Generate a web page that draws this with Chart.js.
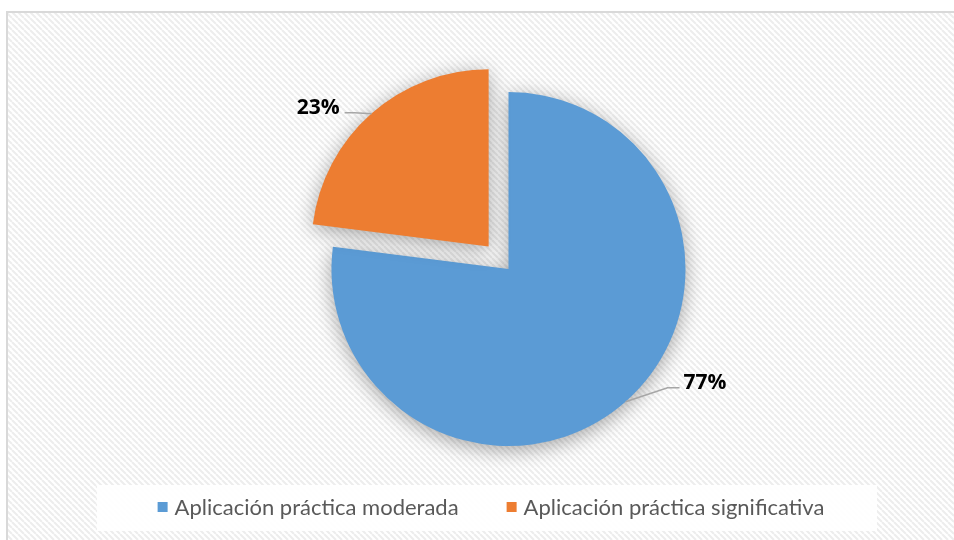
<!DOCTYPE html>
<html>
<head>
<meta charset="utf-8">
<script src="https://cdn.jsdelivr.net/npm/chart.js@4.4.1/dist/chart.umd.min.js"></script>
<style>
  html, body { margin: 0; padding: 0; background: #fff; }
  canvas { display: block; }
</style>
</head>
<body>
<canvas id="c" width="954" height="540"></canvas>
<script>
// Datos del gráfico
const categories = ["Aplicación práctica moderada", "Aplicación práctica significativa"];
const shares = [77, 23];           // porcentaje
const sliceColors = ["#5B9BD5", "#ED7D31"];
const sliceOffsets = [0, 120];     // el sector naranja sale (ArcElement traslada offset/4)

// desplazamiento de cada etiqueta respecto al borde del sector
const labelNudge = [[58, -19], [-32, -6]];

const FONT = "Lato, 'Open Sans', 'Liberation Sans', sans-serif";

// ---- patrón de fondo (diagonal clara) ----
function hatch() {
  const p = document.createElement("canvas");
  p.width = 6; p.height = 6;
  const g = p.getContext("2d");
  g.fillStyle = "#ffffff"; g.fillRect(0, 0, 6, 6);
  g.strokeStyle = "#ededed"; g.lineWidth = 2;
  for (const o of [-6, 0, 6]) {
    g.beginPath(); g.moveTo(o, 0); g.lineTo(o + 6, 6); g.stroke();
  }
  return p;
}

const backdrop = {
  id: "backdrop",
  beforeDraw(chart) {
    const { ctx, width, height } = chart;
    ctx.save();
    ctx.fillStyle = "#fff";
    ctx.fillRect(0, 0, width, height);
    ctx.fillStyle = ctx.createPattern(hatch(), "repeat");
    ctx.fillRect(7, 12, width, height);
    ctx.strokeStyle = "#d9d9d9"; ctx.lineWidth = 2;
    ctx.strokeRect(7, 12, width + 10, height + 10);
    ctx.restore();
  },
};

// sombra suave bajo los sectores
const pieShadow = {
  id: "pieShadow",
  beforeDatasetsDraw(chart) {
    const ctx = chart.ctx;
    ctx.save();
    ctx.shadowColor = "rgba(0,0,0,0.35)";
    ctx.shadowBlur = 20;
    ctx.shadowOffsetY = 4;
  },
  afterDatasetsDraw(chart) { chart.ctx.restore(); },
};

// etiquetas de porcentaje con línea guía
const sliceLabels = {
  id: "sliceLabels",
  afterDraw(chart) {
    const { ctx } = chart;
    const meta = chart.getDatasetMeta(0);
    const ds = chart.data.datasets[0];
    ctx.save();
    meta.data.forEach((arc, i) => {
      const { x, y, startAngle, endAngle, outerRadius } = arc.getProps(["x", "y", "startAngle", "endAngle", "outerRadius"], true);
      const mid = (startAngle + endAngle) / 2;
      const t = (arc.options.offset || 0) / 4;
      const ex = x + Math.cos(mid) * (t + outerRadius);
      const ey = y + Math.sin(mid) * (t + outerRadius);
      const tx = ex + labelNudge[i][0];
      const ty = ey + labelNudge[i][1];
      const right = tx >= ex;
      ctx.strokeStyle = "#a6a6a6"; ctx.lineWidth = 1.5;
      ctx.beginPath();
      ctx.moveTo(ex, ey);
      ctx.lineTo(right ? tx - 16 : tx + 15, ty + 5);
      ctx.lineTo(right ? tx - 4 : tx + 5, ty + 5);
      ctx.stroke();
      ctx.fillStyle = "#000";
      ctx.font = "bold 21px 'Open Sans', 'Liberation Sans', sans-serif";
      ctx.textAlign = right ? "left" : "right";
      ctx.textBaseline = "middle";
      ctx.fillText(ds.data[i] + "%", tx, ty);
    });
    ctx.restore();
  },
};

// leyenda inferior con caja blanca
const bottomLegend = {
  id: "bottomLegend",
  afterDraw(chart) {
    const { ctx } = chart;
    ctx.save();
    ctx.fillStyle = "rgba(255,255,255,0.92)";
    ctx.fillRect(97, 485, 780, 46);
    ctx.font = "22px " + FONT;
    const sq = 10, gapTxt = 7, gapItem = 48;
    const widths = categories.map((c) => ctx.measureText(c).width);
    const total = widths.reduce((a, w) => a + sq + gapTxt + w, 0) + gapItem * (categories.length - 1);
    let x = 491 - total / 2;
    const cy = 507;
    categories.forEach((c, i) => {
      ctx.fillStyle = sliceColors[i];
      ctx.fillRect(x, cy - 5, sq, sq);
      ctx.fillStyle = "#595959";
      ctx.textAlign = "left"; ctx.textBaseline = "middle";
      ctx.fillText(c, x + sq + gapTxt, cy + 1);
      x += sq + gapTxt + widths[i] + gapItem;
    });
    ctx.restore();
  },
};

new Chart(document.getElementById("c"), {
  type: "pie",
  data: {
    labels: categories,
    datasets: [{
      data: shares,
      backgroundColor: sliceColors,
      borderWidth: 0,
      offset: sliceOffsets,
      radius: 177,
    }],
  },
  options: {
    responsive: false,
    animation: false,
    devicePixelRatio: 1,
    layout: { padding: { left: 63, right: 0, top: 0, bottom: 2 } },
    plugins: { legend: { display: false }, tooltip: { enabled: false } },
  },
  plugins: [backdrop, pieShadow, sliceLabels, bottomLegend],
});
</script>
</body>
</html>
